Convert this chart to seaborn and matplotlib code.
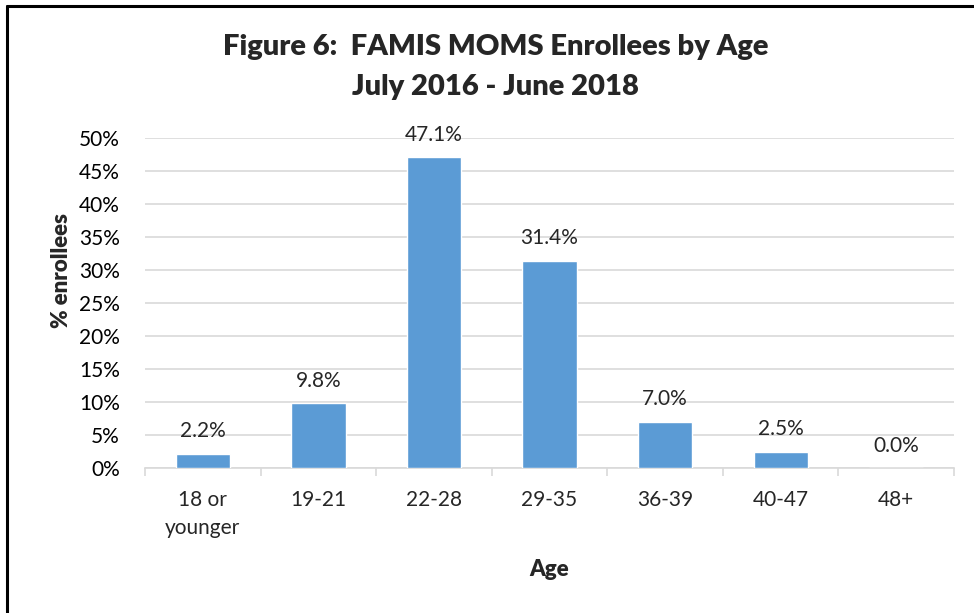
import numpy as np
import pandas as pd
import matplotlib
matplotlib.use("Agg")
import matplotlib.pyplot as plt
import seaborn as sns
from matplotlib.lines import Line2D

# ------------------------------------------------------------
# DATA
# ------------------------------------------------------------
age_groups = ["18 or\nyounger", "19-21", "22-28", "29-35", "36-39", "40-47", "48+"]
pct_enrollees = [2.2, 9.8, 47.1, 31.4, 7.0, 2.5, 0.0]
y_ticks = [0, 5, 10, 15, 20, 25, 30, 35, 40, 45, 50]

df = pd.DataFrame({"Age": age_groups, "Pct": pct_enrollees})

# ------------------------------------------------------------
# STYLE
# ------------------------------------------------------------
sns.set_style("white")
plt.rcParams["font.family"] = ["Lato", "DejaVu Sans"]

fig = plt.figure(figsize=(9.74, 6.13), dpi=100)
ax = fig.add_axes([0.1489, 0.2365, 0.8306, 0.5383])

sns.barplot(data=df, x="Age", y="Pct", color="#5b9bd5", width=0.47,
            saturation=1, ax=ax, zorder=3)

ax.set_ylim(0, 50)
ax.set_xlim(-0.5, len(age_groups) - 0.5)
ax.set_yticks(y_ticks)
ax.set_yticklabels([f"{t}%" for t in y_ticks], fontsize=15, color="#000000")
ax.tick_params(axis="y", length=0, pad=18)
ax.yaxis.grid(True, color="#d9d9d9", linewidth=1.2, zorder=0)

# category boundary tick marks
ax.set_xticks(np.arange(len(age_groups)))
ax.set_xticklabels(age_groups, fontsize=15, linespacing=1.5)
ax.set_xticks(np.arange(len(age_groups) + 1) - 0.5, minor=True)
ax.tick_params(axis="x", which="major", length=0, pad=16)
ax.tick_params(axis="x", which="minor", length=6, color="#d9d9d9", width=1.2,
               bottom=True)

for side in ["top", "right", "left"]:
    ax.spines[side].set_visible(False)
ax.spines["bottom"].set_color("#d9d9d9")
ax.spines["bottom"].set_linewidth(1.2)

# data labels
for i, v in enumerate(pct_enrollees):
    ax.annotate(f"{v:.1f}%", (i, v), xytext=(0, 9), textcoords="offset points",
                ha="center", va="bottom", fontsize=15)

ax.set_xlabel("Age", fontsize=16, fontweight="heavy", labelpad=15)
ax.set_ylabel("% enrollees", fontsize=16, fontweight="heavy")
ax.yaxis.set_label_coords(-0.09, 0.6)

fig.text(0.509, 0.891, "Figure 6:  FAMIS MOMS Enrollees by Age\nJuly 2016 - June 2018",
         ha="center", va="center", fontsize=21, fontweight="heavy",
         linespacing=1.65)

# outer frame (top and left only visible)
fig.add_artist(Line2D([0.0075, 1.0], [0.9895, 0.9895], color="black", linewidth=2.2,
                      transform=fig.transFigure))
fig.add_artist(Line2D([0.0075, 0.0075], [0.0, 0.9895], color="black", linewidth=2.2,
                      transform=fig.transFigure))

fig.savefig("out.png", dpi=100)
